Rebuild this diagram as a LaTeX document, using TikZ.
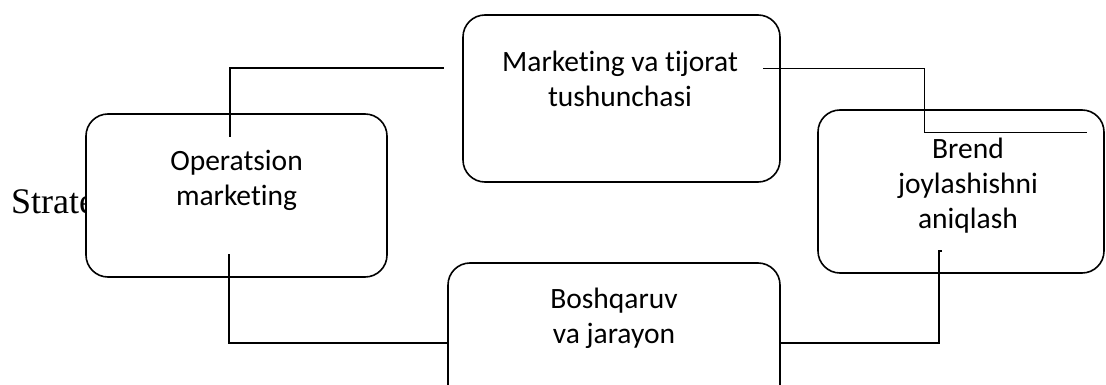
\documentclass[tikz,border=0pt]{standalone}
\usepackage{fontspec}
\setmainfont{Carlito}[Ligatures=NoCommon]
\newfontfamily\timesfont{Liberation Serif}

\begin{document}
\begin{tikzpicture}[x=1pt,y=-1pt,
        kasten/.style={draw, line width=1.6pt, rounded corners=22pt, fill=white, inner sep=0pt},
        linie/.style={line width=1.6pt},
        duenn/.style={line width=0.9pt},
        schrift/.style={font=\fontsize{29.5}{35}\selectfont, align=center, inner sep=0pt, anchor=base}]
            \useasboundingbox (0,0) rectangle (1106,385);

            % Text hinter dem Kasten
            \node[anchor=base west, inner sep=0pt, font=\timesfont\fontsize{36}{40}\selectfont] (strat) at (11,213) {Strate};

            % Kästen
            \node[kasten, minimum width=301pt, minimum height=163pt] (opmark) at (236.5,195.5) {};
            \node[kasten, minimum width=317pt, minimum height=167pt] (tijorat) at (621.5,98.5) {};
            \node[kasten, minimum width=286pt, minimum height=163pt] (brend) at (961,191.5) {};
            \node[kasten, minimum width=332pt, minimum height=160pt] (boshq) at (614,343) {};

            % Beschriftung (Grundlinie der letzten Zeile)
            \node[schrift] (topmark) at (236.5,205) {Operatsion\\marketing};
            \node[schrift] (ttijorat) at (620,107) {Marketing va tijorat\\tushunchasi};
            \node[schrift] (tbrend) at (968,228) {Brend\\joylashishni\\aniqlash};
            \node[schrift] (tboshq) at (614,343) {Boshqaruv\\va jarayon};

            % Verbindungslinien
            \coordinate (o1) at (230,137);
            \coordinate (o2) at (444,68);
            \draw[linie] (o1) |- (o2);

            \coordinate (m1) at (763,68);
            \coordinate (m2) at (1087,132);
            \draw[duenn] (m1) -- (924,68) |- (m2);

            \coordinate (o3) at (229,254);
            \draw[linie] (o3) |- (boshq.west);

            \coordinate (b1) at (942,251);
            \draw[linie] (b1) -- (939,251) |- (boshq.east);
        \end{tikzpicture}
\end{document}
